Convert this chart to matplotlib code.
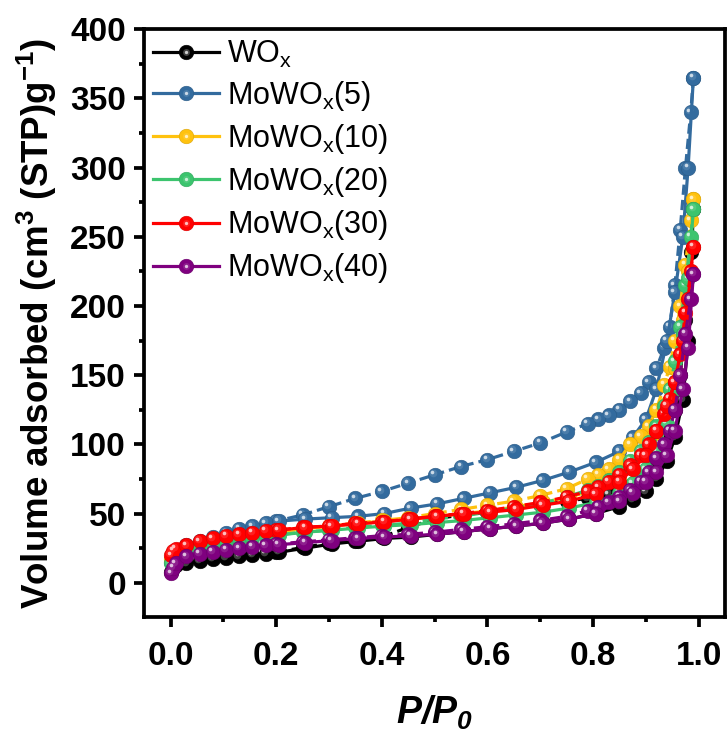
import matplotlib
matplotlib.use("Agg")
import matplotlib.pyplot as plt
from matplotlib.transforms import ScaledTranslation
from matplotlib.lines import Line2D
from matplotlib.legend_handler import HandlerTuple
from matplotlib.colors import to_rgb

plt.rcParams['font.family'] = ['Liberation Sans', 'DejaVu Sans']
plt.rcParams['mathtext.fontset'] = 'custom'
plt.rcParams['mathtext.rm'] = 'Liberation Sans'
plt.rcParams['mathtext.it'] = 'Liberation Sans:italic'
plt.rcParams['mathtext.bf'] = 'Liberation Sans:bold'
plt.rcParams['mathtext.bfit'] = 'Liberation Sans:italic:bold'

# Relative pressure grids (adsorption and desorption branches)
p_ads = [0.001, 0.005, 0.01, 0.03, 0.055, 0.08, 0.105, 0.13, 0.155, 0.18, 0.205,
         0.255, 0.305, 0.355, 0.405, 0.455, 0.505, 0.555, 0.605, 0.655, 0.705,
         0.755, 0.805, 0.85, 0.875, 0.9, 0.92, 0.94, 0.955, 0.97, 0.98, 0.99]
p_des = [0.99, 0.985, 0.975, 0.965, 0.955, 0.945, 0.935, 0.92, 0.905, 0.89, 0.87,
         0.85, 0.83, 0.81, 0.79, 0.75, 0.70, 0.65, 0.60, 0.55, 0.50, 0.45, 0.40,
         0.35, 0.30, 0.25, 0.20]

labels = ['WO$_\\mathregular{x}$', 'MoWO$_\\mathregular{x}$(5)', 'MoWO$_\\mathregular{x}$(10)',
          'MoWO$_\\mathregular{x}$(20)', 'MoWO$_\\mathregular{x}$(30)', 'MoWO$_\\mathregular{x}$(40)']
colors = ['#000000', '#336B9E', '#FFC20E', '#3CC46E', '#FF0000', '#7F007F']

# Volume adsorbed, cm3(STP)/g
wox_ads = [8, 11, 12.5, 14, 15.5, 17, 18, 19, 20, 21, 22, 25, 28, 30, 32, 33, 35, 37, 39,
           41, 43, 46, 50, 55, 60, 66, 75, 88, 105, 132, 175, 270]
wox_des = [270, 239, 190, 150, 125, 108, 98, 88, 80, 75, 70, 66, 64, 62, 61, 59, 57, 54,
           51, 49, 46, 40, 33, 30.5, 28.5, 25.5, 22]
mo5_ads = [15, 20, 23, 27, 30, 33, 36, 39, 41, 43, 44.5, 46, 47, 48, 50, 54, 57, 61, 65,
           69, 74, 80, 87, 95, 105, 118, 140, 175, 210, 250, 300, 365]
mo5_des = [365, 340, 300, 255, 215, 185, 170, 155, 145, 137, 131, 125, 121, 118, 115, 109,
           101, 95, 89, 84, 78, 72, 66, 61, 55, 49, 44.5]
mo10_ads = [17, 21, 23, 26, 28.5, 30.5, 32, 33.5, 35, 36, 37, 39, 41, 43, 44.5, 46, 48, 50,
            52, 55, 58, 62, 67, 75, 82, 93, 108, 130, 155, 190, 225, 277]
mo10_des = [277, 262, 230, 200, 175, 156, 143, 125, 113, 106, 100, 89, 82, 78, 75, 68, 63,
            59, 56, 53, 50, 47, 45, 43, 41, 39, 37]
mo20_ads = [14, 19, 21, 24, 26.5, 28.5, 30, 31.5, 32.5, 33.5, 34.5, 36.5, 38, 39.5, 41, 42,
            43.5, 45, 47, 49, 51, 54, 58, 65, 72, 82, 95, 115, 140, 180, 220, 270]
mo20_des = [270, 250, 215, 185, 160, 140, 128, 113, 102, 95, 88, 80, 74, 70, 67, 62, 57,
            54, 51, 48, 46, 43, 41.5, 40, 38, 36.5, 34.5]
mo30_ads = [20, 23, 24.5, 27, 30, 32, 34, 35, 36, 37.5, 38, 40, 41, 42.5, 44, 46, 48, 50,
            51, 53, 56, 59, 64, 73, 82, 92, 110, 128, 145, 175, 205, 243]
mo30_des = [243, 225, 195, 165, 145, 133, 122, 110, 100, 92, 85, 78, 73, 69, 66, 62, 58,
            55, 52, 50, 48, 46, 44, 43, 41, 40, 38]
mo40_ads = [7, 11, 14, 19, 21, 22.5, 24, 25, 26, 27, 27.5, 29, 30.5, 32, 33, 34, 35, 37,
            39, 41, 43, 46, 50, 59, 65, 73, 80, 92, 110, 140, 170, 223]
mo40_des = [223, 205, 180, 150, 125, 110, 100, 90, 80, 73, 67, 62, 58, 55, 52, 48, 45,
            42.5, 40.5, 38.5, 36.5, 35, 34, 32.5, 31, 29.5, 28]

ads_sets = [wox_ads, mo5_ads, mo10_ads, mo20_ads, mo30_ads, mo40_ads]
des_sets = [wox_des, mo5_des, mo10_des, mo20_des, mo30_des, mo40_des]


def mix(c, w):
    r, g, b = to_rgb(c)
    return (r + (1 - r) * w, g + (1 - g) * w, b + (1 - b) * w)


def shade(c, f):
    r, g, b = to_rgb(c)
    return (r * f, g * f, b * f)


fig = plt.figure(figsize=(7.28, 7.51), dpi=100)
ax = fig.add_axes([0.198, 0.178, 0.798, 0.783])

off1 = ax.transData + ScaledTranslation(-1.3 / 72, 1.3 / 72, fig.dpi_scale_trans)
off2 = ax.transData + ScaledTranslation(-1.8 / 72, 1.8 / 72, fig.dpi_scale_trans)

LW = 2.3
MS = 10.5


def highlight_colors(c):
    if c == '#000000':
        return (0.25, 0.25, 0.25), (0.8, 0.8, 0.8)
    return mix(c, 0.12), mix(c, 0.75)


def sphere_line(x, y, c, dashed, z):
    kw = dict(color=c, lw=LW, marker='o', ms=MS, mfc=c, mec=shade(c, 0.85), mew=0.4, zorder=z)
    if dashed:
        kw['dashes'] = (3.2, 1.6)
    ax.plot(x, y, **kw)
    mid, hi = highlight_colors(c)
    ax.plot(x, y, ls='none', marker='o', ms=5.5, mfc=mid, mec='none',
            transform=off1, zorder=z + 0.1)
    ax.plot(x, y, ls='none', marker='o', ms=2.6, mfc=hi, mec='none',
            transform=off2, zorder=z + 0.2)


for i, (c, a, d) in enumerate(zip(colors, ads_sets, des_sets)):
    sphere_line(p_des, d, c, True, 2 + i)
    sphere_line(p_ads, a, c, False, 2 + i + 0.5)

ax.set_xlim(-0.05, 1.05)
ax.set_ylim(-25, 400)
ax.set_xticks([0.0, 0.2, 0.4, 0.6, 0.8, 1.0])
ax.set_xticks([0.1, 0.3, 0.5, 0.7, 0.9], minor=True)
ax.set_yticks(range(0, 401, 50))
ax.set_yticks(range(25, 400, 50), minor=True)
ax.set_xticklabels(['0.0', '0.2', '0.4', '0.6', '0.8', '1.0'])

for s in ax.spines.values():
    s.set_linewidth(2.7)
ax.tick_params(which='major', direction='out', length=7, width=2.7, labelsize=24, pad=6)
ax.tick_params(which='minor', direction='out', length=3.5, width=2.7)
for t in ax.get_xticklabels() + ax.get_yticklabels():
    t.set_fontweight('bold')
ax.tick_params(axis='x', pad=10)

ax.set_ylabel('Volume adsorbed (cm$^\\mathbf{3}$ (STP)g$^\\mathbf{-1}$)',
              fontsize=26.5, fontweight='bold', labelpad=8)
ax.set_xlabel('$\\mathbfit{P/P_0}$', fontsize=27, labelpad=16)

handles = []
for c in colors:
    h1 = Line2D([], [], color=c, lw=LW, marker='o', ms=MS, mfc=c, mec=shade(c, 0.85), mew=0.4)
    mid, hi = highlight_colors(c)
    h2 = Line2D([], [], ls='none', marker='o', ms=5.0, mfc=mid, mec='none')
    h3 = Line2D([], [], ls='none', marker='o', ms=2.4, mfc=hi, mec='none')
    handles.append((h1, h2, h3))
ax.legend(handles, labels, handler_map={tuple: HandlerTuple(ndivide=1)},
          loc='upper left', bbox_to_anchor=(0.0, 1.0), frameon=False,
          fontsize=22, handlelength=2.15, handletextpad=0.25, labelspacing=0.3,
          borderaxespad=0.05, borderpad=0.25)

fig.savefig('out.png', dpi=100)
